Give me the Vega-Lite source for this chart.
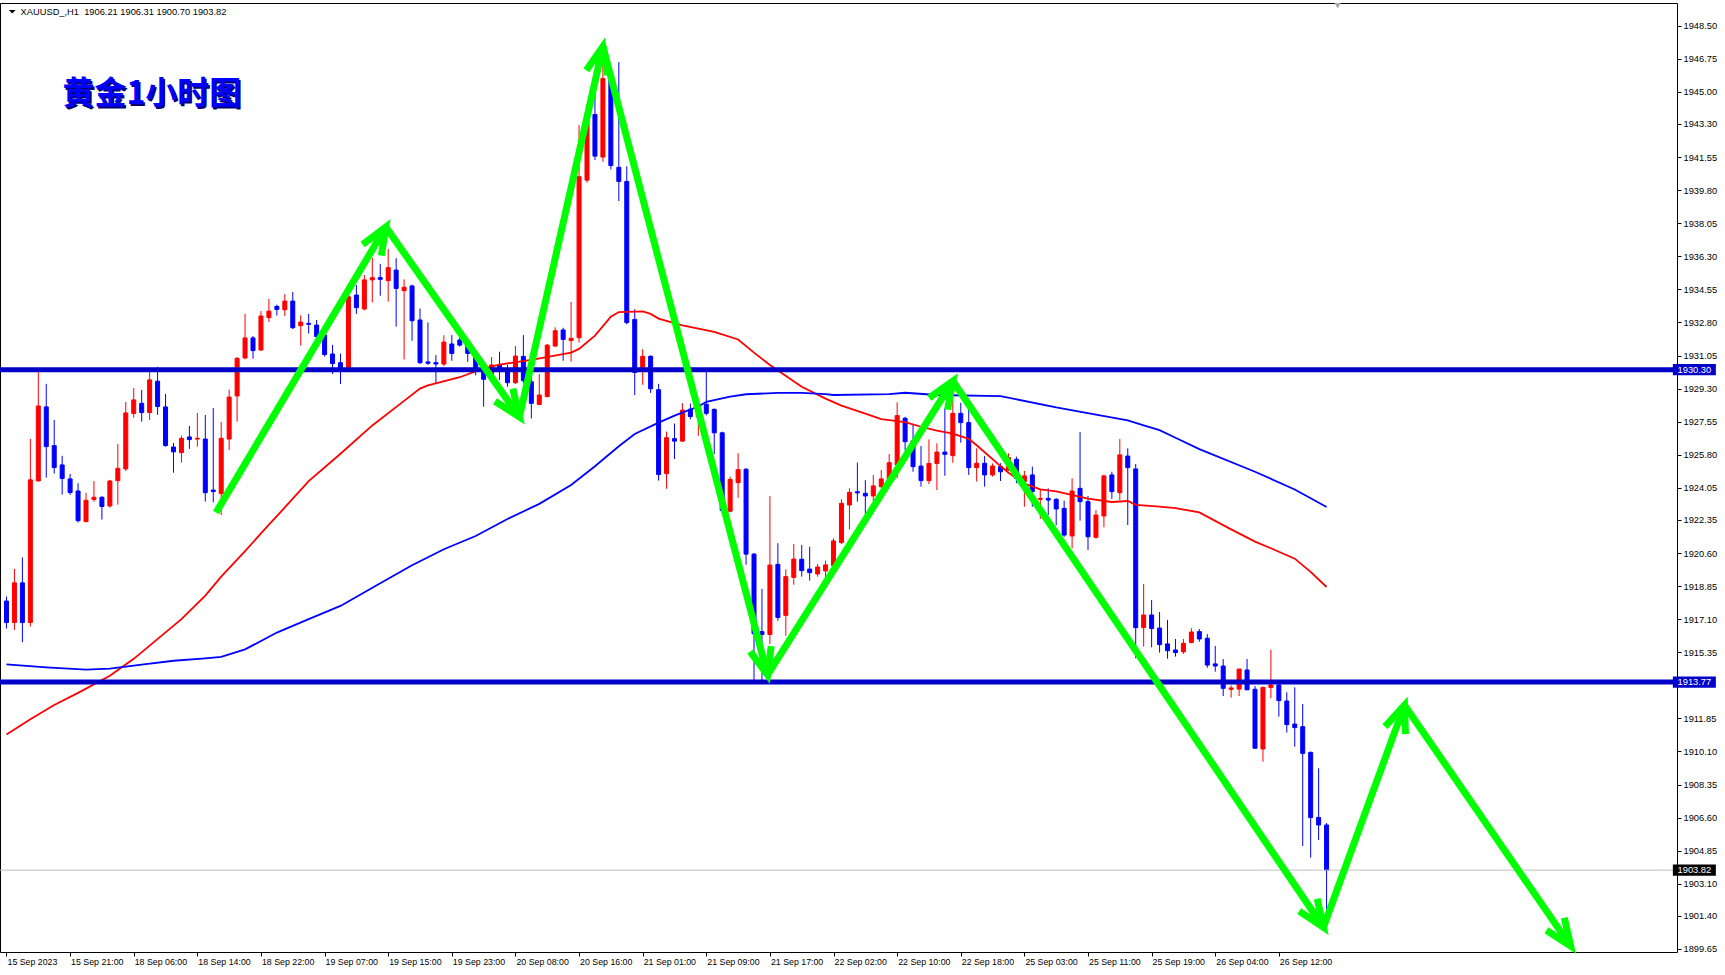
{
"$schema": "https://vega.github.io/schema/vega-lite/v6.json",
"width": 1677, "height": 949,
"autosize": {"type": "none"},
"padding": {"left": 0, "top": 3, "right": 48, "bottom": 23},
"background": "white",
"config": {
"view": {"stroke": "black", "strokeWidth": 1},
"font": "Liberation Sans",
"axisX": {"grid": false, "domain": false, "ticks": true, "tickSize": 4, "tickColor": "black", "tickWidth": 1,
"labelColor": "black", "labelFont": "Liberation Sans", "labelFontSize": 8.8, "labelAlign": "left", "labelBaseline": "top",
"labelPadding": 1, "labelOffset": 0.5, "labelOverlap": false, "labelFlush": false, "labelBound": false, "title": null},
"axisY": {"grid": false, "domain": false, "ticks": true, "tickSize": 4, "tickColor": "black", "tickWidth": 1,
"labelColor": "black", "labelFont": "Liberation Sans", "labelFontSize": 9.3, "labelPadding": 2, "labelAlign": "left", "labelBaseline": "middle",
"labelOverlap": false, "labelFlush": false, "labelBound": false, "title": null}
},
"datasets": {
"candles": [
{"i":0,"t":"2023-09-15 13:00","o":1918.06,"h":1918.3,"l":1916.6,"c":1916.92},
{"i":1,"t":"2023-09-15 14:00","o":1916.92,"h":1919.76,"l":1916.53,"c":1919.02},
{"i":2,"t":"2023-09-15 15:00","o":1919.02,"h":1920.36,"l":1915.88,"c":1916.92},
{"i":3,"t":"2023-09-15 16:00","o":1916.92,"h":1926.64,"l":1916.71,"c":1924.47},
{"i":4,"t":"2023-09-15 17:00","o":1924.41,"h":1930.35,"l":1924.41,"c":1928.38},
{"i":5,"t":"2023-09-15 18:00","o":1928.33,"h":1929.55,"l":1924.59,"c":1926.23},
{"i":6,"t":"2023-09-15 19:00","o":1926.28,"h":1927.64,"l":1924.8,"c":1925.12},
{"i":7,"t":"2023-09-15 20:00","o":1925.26,"h":1925.74,"l":1923.69,"c":1924.54},
{"i":8,"t":"2023-09-15 21:00","o":1924.52,"h":1924.78,"l":1923.67,"c":1923.8},
{"i":9,"t":"2023-09-15 22:00","o":1923.88,"h":1924.29,"l":1922.21,"c":1922.31},
{"i":10,"t":"2023-09-15 23:00","o":1922.26,"h":1923.78,"l":1922.23,"c":1923.39},
{"i":11,"t":"2023-09-18 01:00","o":1923.43,"h":1924.41,"l":1923.32,"c":1923.55},
{"i":12,"t":"2023-09-18 02:00","o":1923.55,"h":1923.6,"l":1922.37,"c":1923.06},
{"i":13,"t":"2023-09-18 03:00","o":1923.09,"h":1924.47,"l":1923.0,"c":1924.41},
{"i":14,"t":"2023-09-18 04:00","o":1924.43,"h":1926.37,"l":1923.16,"c":1925.08},
{"i":15,"t":"2023-09-18 05:00","o":1925.05,"h":1928.59,"l":1924.94,"c":1928.01},
{"i":16,"t":"2023-09-18 06:00","o":1927.98,"h":1929.33,"l":1927.76,"c":1928.7},
{"i":17,"t":"2023-09-18 07:00","o":1928.52,"h":1929.23,"l":1927.55,"c":1928.03},
{"i":18,"t":"2023-09-18 08:00","o":1928.03,"h":1930.4,"l":1927.64,"c":1929.76},
{"i":19,"t":"2023-09-18 09:00","o":1929.69,"h":1930.45,"l":1927.91,"c":1928.35},
{"i":20,"t":"2023-09-18 10:00","o":1928.33,"h":1929.02,"l":1926.23,"c":1926.28},
{"i":21,"t":"2023-09-18 11:00","o":1926.21,"h":1926.42,"l":1924.85,"c":1925.95},
{"i":22,"t":"2023-09-18 12:00","o":1925.91,"h":1926.81,"l":1925.38,"c":1926.67},
{"i":23,"t":"2023-09-18 13:00","o":1926.74,"h":1927.32,"l":1926.11,"c":1926.6},
{"i":24,"t":"2023-09-18 14:00","o":1926.63,"h":1928.01,"l":1926.23,"c":1926.67},
{"i":25,"t":"2023-09-18 15:00","o":1926.63,"h":1927.9,"l":1923.32,"c":1923.79},
{"i":26,"t":"2023-09-18 16:00","o":1923.93,"h":1928.27,"l":1923.28,"c":1923.85},
{"i":27,"t":"2023-09-18 17:00","o":1923.74,"h":1927.53,"l":1922.61,"c":1926.67},
{"i":28,"t":"2023-09-18 18:00","o":1926.63,"h":1929.24,"l":1926.05,"c":1928.85},
{"i":29,"t":"2023-09-18 19:00","o":1928.91,"h":1930.97,"l":1927.55,"c":1930.9},
{"i":30,"t":"2023-09-18 20:00","o":1930.92,"h":1933.25,"l":1930.85,"c":1931.98},
{"i":31,"t":"2023-09-18 21:00","o":1931.98,"h":1932.08,"l":1930.88,"c":1931.31},
{"i":32,"t":"2023-09-18 22:00","o":1931.34,"h":1933.4,"l":1931.29,"c":1933.14},
{"i":33,"t":"2023-09-18 23:00","o":1933.05,"h":1934.04,"l":1932.82,"c":1933.4},
{"i":34,"t":"2023-09-19 01:00","o":1933.65,"h":1933.74,"l":1933.16,"c":1933.49},
{"i":35,"t":"2023-09-19 02:00","o":1933.47,"h":1934.3,"l":1933.14,"c":1933.93},
{"i":36,"t":"2023-09-19 03:00","o":1933.93,"h":1934.41,"l":1932.45,"c":1932.52},
{"i":37,"t":"2023-09-19 04:00","o":1932.63,"h":1933.18,"l":1931.57,"c":1932.82},
{"i":38,"t":"2023-09-19 05:00","o":1932.75,"h":1933.25,"l":1932.21,"c":1932.7},
{"i":39,"t":"2023-09-19 06:00","o":1932.66,"h":1932.93,"l":1931.92,"c":1932.05},
{"i":40,"t":"2023-09-19 07:00","o":1932.14,"h":1932.31,"l":1930.99,"c":1931.1},
{"i":41,"t":"2023-09-19 08:00","o":1931.13,"h":1931.61,"l":1930.07,"c":1930.62},
{"i":42,"t":"2023-09-19 09:00","o":1930.67,"h":1931.15,"l":1929.54,"c":1930.25},
{"i":43,"t":"2023-09-19 10:00","o":1930.4,"h":1934.5,"l":1930.2,"c":1934.16},
{"i":44,"t":"2023-09-19 11:00","o":1934.25,"h":1934.78,"l":1933.25,"c":1933.58},
{"i":45,"t":"2023-09-19 12:00","o":1933.51,"h":1935.31,"l":1933.44,"c":1935.05},
{"i":46,"t":"2023-09-19 13:00","o":1935.05,"h":1936.23,"l":1933.86,"c":1935.17},
{"i":47,"t":"2023-09-19 14:00","o":1935.17,"h":1935.89,"l":1934.21,"c":1935.08},
{"i":48,"t":"2023-09-19 15:00","o":1935.01,"h":1936.7,"l":1933.9,"c":1935.7},
{"i":49,"t":"2023-09-19 16:00","o":1935.57,"h":1936.2,"l":1932.58,"c":1934.6},
{"i":50,"t":"2023-09-19 17:00","o":1934.48,"h":1935.08,"l":1930.84,"c":1934.66},
{"i":51,"t":"2023-09-19 18:00","o":1934.73,"h":1934.8,"l":1931.83,"c":1932.89},
{"i":52,"t":"2023-09-19 19:00","o":1932.93,"h":1933.54,"l":1930.6,"c":1930.67},
{"i":53,"t":"2023-09-19 20:00","o":1930.71,"h":1932.8,"l":1930.55,"c":1930.64},
{"i":54,"t":"2023-09-19 21:00","o":1930.67,"h":1931.07,"l":1929.57,"c":1930.6},
{"i":55,"t":"2023-09-19 22:00","o":1930.6,"h":1932.12,"l":1930.49,"c":1931.76},
{"i":56,"t":"2023-09-19 23:00","o":1931.66,"h":1932.13,"l":1930.77,"c":1931.16},
{"i":57,"t":"2023-09-20 01:00","o":1931.87,"h":1932.05,"l":1931.52,"c":1931.6},
{"i":58,"t":"2023-09-20 02:00","o":1931.6,"h":1931.8,"l":1930.72,"c":1931.16},
{"i":59,"t":"2023-09-20 03:00","o":1930.98,"h":1931.3,"l":1930.0,"c":1930.3},
{"i":60,"t":"2023-09-20 04:00","o":1930.37,"h":1930.6,"l":1928.34,"c":1929.79},
{"i":61,"t":"2023-09-20 05:00","o":1929.8,"h":1930.97,"l":1929.7,"c":1930.55},
{"i":62,"t":"2023-09-20 06:00","o":1930.55,"h":1931.25,"l":1929.75,"c":1930.2},
{"i":63,"t":"2023-09-20 07:00","o":1930.2,"h":1930.55,"l":1929.4,"c":1929.61},
{"i":64,"t":"2023-09-20 08:00","o":1929.61,"h":1931.55,"l":1929.54,"c":1931.02},
{"i":65,"t":"2023-09-20 09:00","o":1931.0,"h":1932.13,"l":1929.58,"c":1929.72},
{"i":66,"t":"2023-09-20 10:00","o":1929.66,"h":1929.9,"l":1927.72,"c":1928.52},
{"i":67,"t":"2023-09-20 11:00","o":1928.46,"h":1930.07,"l":1928.43,"c":1928.96},
{"i":68,"t":"2023-09-20 12:00","o":1928.87,"h":1931.66,"l":1928.85,"c":1931.6},
{"i":69,"t":"2023-09-20 13:00","o":1931.55,"h":1932.54,"l":1931.52,"c":1932.36},
{"i":70,"t":"2023-09-20 14:00","o":1932.4,"h":1932.52,"l":1930.77,"c":1931.9},
{"i":71,"t":"2023-09-20 15:00","o":1931.84,"h":1933.88,"l":1930.72,"c":1931.96},
{"i":72,"t":"2023-09-20 16:00","o":1931.99,"h":1943.24,"l":1931.73,"c":1940.51},
{"i":73,"t":"2023-09-20 17:00","o":1940.33,"h":1944.35,"l":1940.19,"c":1943.83},
{"i":74,"t":"2023-09-20 18:00","o":1943.8,"h":1945.63,"l":1941.39,"c":1941.6},
{"i":75,"t":"2023-09-20 19:00","o":1941.55,"h":1946.7,"l":1941.3,"c":1945.7},
{"i":76,"t":"2023-09-20 20:00","o":1945.7,"h":1946.2,"l":1940.9,"c":1941.1},
{"i":77,"t":"2023-09-20 21:00","o":1941.01,"h":1946.57,"l":1939.22,"c":1940.26},
{"i":78,"t":"2023-09-20 22:00","o":1940.26,"h":1941.06,"l":1932.7,"c":1932.79},
{"i":79,"t":"2023-09-20 23:00","o":1932.96,"h":1933.5,"l":1928.96,"c":1930.15},
{"i":80,"t":"2023-09-21 01:00","o":1930.41,"h":1931.38,"l":1929.5,"c":1931.01},
{"i":81,"t":"2023-09-21 02:00","o":1931.01,"h":1931.05,"l":1929.07,"c":1929.29},
{"i":82,"t":"2023-09-21 03:00","o":1929.24,"h":1929.55,"l":1924.43,"c":1924.75},
{"i":83,"t":"2023-09-21 04:00","o":1924.8,"h":1927.02,"l":1924.0,"c":1926.7},
{"i":84,"t":"2023-09-21 05:00","o":1926.65,"h":1927.45,"l":1925.57,"c":1926.52},
{"i":85,"t":"2023-09-21 06:00","o":1926.52,"h":1928.53,"l":1926.48,"c":1928.16},
{"i":86,"t":"2023-09-21 07:00","o":1928.21,"h":1928.51,"l":1927.67,"c":1927.82},
{"i":87,"t":"2023-09-21 08:00","o":1927.8,"h":1928.64,"l":1926.8,"c":1928.4},
{"i":88,"t":"2023-09-21 09:00","o":1928.47,"h":1930.26,"l":1927.88,"c":1927.99},
{"i":89,"t":"2023-09-21 10:00","o":1928.2,"h":1928.25,"l":1925.83,"c":1926.96},
{"i":90,"t":"2023-09-21 11:00","o":1926.96,"h":1927.02,"l":1922.7,"c":1922.85},
{"i":91,"t":"2023-09-21 12:00","o":1922.81,"h":1924.64,"l":1922.76,"c":1924.49},
{"i":92,"t":"2023-09-21 13:00","o":1924.32,"h":1925.88,"l":1923.52,"c":1925.01},
{"i":93,"t":"2023-09-21 14:00","o":1925.03,"h":1925.1,"l":1919.98,"c":1920.54},
{"i":94,"t":"2023-09-21 15:00","o":1920.54,"h":1920.6,"l":1913.84,"c":1916.33},
{"i":95,"t":"2023-09-21 16:00","o":1916.44,"h":1918.7,"l":1913.84,"c":1916.29},
{"i":96,"t":"2023-09-21 17:00","o":1916.29,"h":1923.61,"l":1915.79,"c":1919.96},
{"i":97,"t":"2023-09-21 18:00","o":1920.0,"h":1921.12,"l":1917.02,"c":1917.19},
{"i":98,"t":"2023-09-21 19:00","o":1917.3,"h":1919.74,"l":1916.22,"c":1919.35},
{"i":99,"t":"2023-09-21 20:00","o":1919.31,"h":1921.08,"l":1918.92,"c":1920.28},
{"i":100,"t":"2023-09-21 21:00","o":1920.27,"h":1921.02,"l":1919.35,"c":1919.67},
{"i":101,"t":"2023-09-21 22:00","o":1919.75,"h":1920.93,"l":1919.14,"c":1919.56},
{"i":102,"t":"2023-09-21 23:00","o":1919.49,"h":1920.02,"l":1919.35,"c":1919.86},
{"i":103,"t":"2023-09-22 01:00","o":1919.65,"h":1920.2,"l":1919.31,"c":1919.97},
{"i":104,"t":"2023-09-22 02:00","o":1919.93,"h":1921.38,"l":1919.88,"c":1921.24},
{"i":105,"t":"2023-09-22 03:00","o":1921.15,"h":1923.44,"l":1921.08,"c":1923.23},
{"i":106,"t":"2023-09-22 04:00","o":1923.14,"h":1924.02,"l":1921.85,"c":1923.81},
{"i":107,"t":"2023-09-22 05:00","o":1923.84,"h":1925.38,"l":1923.32,"c":1923.78},
{"i":108,"t":"2023-09-22 06:00","o":1923.76,"h":1924.46,"l":1922.66,"c":1923.62},
{"i":109,"t":"2023-09-22 07:00","o":1923.62,"h":1924.73,"l":1923.32,"c":1924.15},
{"i":110,"t":"2023-09-22 08:00","o":1924.11,"h":1924.99,"l":1924.02,"c":1924.52},
{"i":111,"t":"2023-09-22 09:00","o":1924.5,"h":1925.84,"l":1924.46,"c":1925.38},
{"i":112,"t":"2023-09-22 10:00","o":1925.26,"h":1928.57,"l":1924.55,"c":1927.87},
{"i":113,"t":"2023-09-22 11:00","o":1927.73,"h":1927.81,"l":1926.02,"c":1926.49},
{"i":114,"t":"2023-09-22 12:00","o":1926.54,"h":1927.43,"l":1924.9,"c":1925.17},
{"i":115,"t":"2023-09-22 13:00","o":1925.2,"h":1926.26,"l":1924.11,"c":1924.43},
{"i":116,"t":"2023-09-22 14:00","o":1924.43,"h":1926.61,"l":1924.25,"c":1925.34},
{"i":117,"t":"2023-09-22 15:00","o":1925.34,"h":1926.4,"l":1923.93,"c":1925.94},
{"i":118,"t":"2023-09-22 16:00","o":1925.94,"h":1928.25,"l":1924.69,"c":1925.82},
{"i":119,"t":"2023-09-22 17:00","o":1925.75,"h":1928.7,"l":1925.38,"c":1927.99},
{"i":120,"t":"2023-09-22 18:00","o":1927.99,"h":1928.55,"l":1926.44,"c":1927.5},
{"i":121,"t":"2023-09-22 19:00","o":1927.5,"h":1928.38,"l":1924.73,"c":1925.12},
{"i":122,"t":"2023-09-22 20:00","o":1925.12,"h":1926.14,"l":1924.38,"c":1925.35},
{"i":123,"t":"2023-09-22 21:00","o":1925.35,"h":1925.73,"l":1924.11,"c":1924.73},
{"i":124,"t":"2023-09-22 22:00","o":1924.73,"h":1925.34,"l":1924.64,"c":1925.2},
{"i":125,"t":"2023-09-22 23:00","o":1925.17,"h":1925.35,"l":1924.41,"c":1924.9},
{"i":126,"t":"2023-09-25 01:00","o":1924.99,"h":1925.87,"l":1924.96,"c":1925.65},
{"i":127,"t":"2023-09-25 02:00","o":1925.56,"h":1925.7,"l":1924.29,"c":1924.55},
{"i":128,"t":"2023-09-25 03:00","o":1924.38,"h":1924.94,"l":1923.05,"c":1924.68},
{"i":129,"t":"2023-09-25 04:00","o":1924.73,"h":1925.17,"l":1923.05,"c":1923.85},
{"i":130,"t":"2023-09-25 05:00","o":1923.44,"h":1923.97,"l":1922.4,"c":1923.49},
{"i":131,"t":"2023-09-25 06:00","o":1923.49,"h":1924.02,"l":1922.61,"c":1923.4},
{"i":132,"t":"2023-09-25 07:00","o":1923.44,"h":1923.5,"l":1922.08,"c":1922.93},
{"i":133,"t":"2023-09-25 08:00","o":1922.96,"h":1923.37,"l":1921.46,"c":1921.55},
{"i":134,"t":"2023-09-25 09:00","o":1921.5,"h":1924.55,"l":1920.85,"c":1923.88},
{"i":135,"t":"2023-09-25 10:00","o":1924.02,"h":1927.0,"l":1922.31,"c":1923.32},
{"i":136,"t":"2023-09-25 11:00","o":1923.32,"h":1923.62,"l":1920.76,"c":1921.46},
{"i":137,"t":"2023-09-25 12:00","o":1921.43,"h":1922.87,"l":1921.36,"c":1922.61},
{"i":138,"t":"2023-09-25 13:00","o":1922.56,"h":1924.73,"l":1921.96,"c":1924.68},
{"i":139,"t":"2023-09-25 14:00","o":1924.73,"h":1924.9,"l":1923.46,"c":1923.85},
{"i":140,"t":"2023-09-25 15:00","o":1923.79,"h":1926.63,"l":1923.41,"c":1925.79},
{"i":141,"t":"2023-09-25 16:00","o":1925.73,"h":1926.14,"l":1922.08,"c":1925.12},
{"i":142,"t":"2023-09-25 17:00","o":1925.05,"h":1925.31,"l":1915.03,"c":1916.65},
{"i":143,"t":"2023-09-25 18:00","o":1916.65,"h":1918.96,"l":1915.65,"c":1917.32},
{"i":144,"t":"2023-09-25 19:00","o":1917.32,"h":1918.11,"l":1915.61,"c":1916.6},
{"i":145,"t":"2023-09-25 20:00","o":1916.63,"h":1917.48,"l":1915.33,"c":1915.75},
{"i":146,"t":"2023-09-25 21:00","o":1915.79,"h":1917.06,"l":1915.01,"c":1915.43},
{"i":147,"t":"2023-09-25 22:00","o":1915.47,"h":1916.05,"l":1915.12,"c":1915.33},
{"i":148,"t":"2023-09-25 23:00","o":1915.37,"h":1916.05,"l":1915.26,"c":1915.82},
{"i":149,"t":"2023-09-26 01:00","o":1915.86,"h":1916.62,"l":1915.82,"c":1916.42},
{"i":150,"t":"2023-09-26 02:00","o":1916.44,"h":1916.58,"l":1915.91,"c":1916.05},
{"i":151,"t":"2023-09-26 03:00","o":1916.09,"h":1916.31,"l":1914.53,"c":1914.67},
{"i":152,"t":"2023-09-26 04:00","o":1914.73,"h":1915.68,"l":1914.32,"c":1914.62},
{"i":153,"t":"2023-09-26 05:00","o":1914.62,"h":1914.99,"l":1913.03,"c":1913.44},
{"i":154,"t":"2023-09-26 06:00","o":1913.39,"h":1913.6,"l":1912.95,"c":1913.46},
{"i":155,"t":"2023-09-26 07:00","o":1913.4,"h":1914.46,"l":1913.03,"c":1914.46},
{"i":156,"t":"2023-09-26 08:00","o":1914.41,"h":1914.99,"l":1913.35,"c":1913.36},
{"i":157,"t":"2023-09-26 09:00","o":1913.39,"h":1913.56,"l":1910.23,"c":1910.27},
{"i":158,"t":"2023-09-26 10:00","o":1910.23,"h":1913.53,"l":1909.56,"c":1913.49},
{"i":159,"t":"2023-09-26 11:00","o":1913.48,"h":1915.47,"l":1912.91,"c":1913.62},
{"i":160,"t":"2023-09-26 12:00","o":1913.62,"h":1913.7,"l":1911.94,"c":1912.79},
{"i":161,"t":"2023-09-26 13:00","o":1912.77,"h":1913.23,"l":1911.1,"c":1911.52},
{"i":162,"t":"2023-09-26 14:00","o":1911.55,"h":1913.49,"l":1910.35,"c":1911.36},
{"i":163,"t":"2023-09-26 15:00","o":1911.41,"h":1912.61,"l":1905.1,"c":1910.0},
{"i":164,"t":"2023-09-26 16:00","o":1910.05,"h":1910.1,"l":1904.48,"c":1906.6},
{"i":165,"t":"2023-09-26 17:00","o":1906.61,"h":1909.21,"l":1905.41,"c":1906.21},
{"i":166,"t":"2023-09-26 18:00","o":1906.21,"h":1906.31,"l":1900.7,"c":1903.82}
],
"ma": [
{"ma":"fast","i":0,"v":1911.0},{"ma":"fast","i":3,"v":1911.8},{"ma":"fast","i":6,"v":1912.56},{"ma":"fast","i":9,"v":1913.2},{"ma":"fast","i":13,"v":1914.1},{"ma":"fast","i":16,"v":1915.0},{"ma":"fast","i":18,"v":1915.7},{"ma":"fast","i":20,"v":1916.4},{"ma":"fast","i":22,"v":1917.1},{"ma":"fast","i":25,"v":1918.35},{"ma":"fast","i":27,"v":1919.35},{"ma":"fast","i":30,"v":1920.7},{"ma":"fast","i":33,"v":1922.1},{"ma":"fast","i":34,"v":1922.55},{"ma":"fast","i":38,"v":1924.4},{"ma":"fast","i":42,"v":1925.85},{"ma":"fast","i":46,"v":1927.35},{"ma":"fast","i":50,"v":1928.65},{"ma":"fast","i":52,"v":1929.3},{"ma":"fast","i":53,"v":1929.47},{"ma":"fast","i":57,"v":1929.9},{"ma":"fast","i":60,"v":1930.37},{"ma":"fast","i":62,"v":1930.57},{"ma":"fast","i":66,"v":1930.82},{"ma":"fast","i":71,"v":1931.2},{"ma":"fast","i":72,"v":1931.4},{"ma":"fast","i":74,"v":1932.1},{"ma":"fast","i":76,"v":1933.1},{"ma":"fast","i":77,"v":1933.35},{"ma":"fast","i":80,"v":1933.38},{"ma":"fast","i":81,"v":1933.25},{"ma":"fast","i":82,"v":1933.0},{"ma":"fast","i":85,"v":1932.64},{"ma":"fast","i":89,"v":1932.3},{"ma":"fast","i":92,"v":1931.9},{"ma":"fast","i":94,"v":1931.2},{"ma":"fast","i":96,"v":1930.55},{"ma":"fast","i":100,"v":1929.4},{"ma":"fast","i":103,"v":1928.77},{"ma":"fast","i":105,"v":1928.4},{"ma":"fast","i":108,"v":1927.97},{"ma":"fast","i":110,"v":1927.68},{"ma":"fast","i":113,"v":1927.53},{"ma":"fast","i":115,"v":1927.28},{"ma":"fast","i":117,"v":1927.08},{"ma":"fast","i":119,"v":1926.92},{"ma":"fast","i":121,"v":1926.64},{"ma":"fast","i":122,"v":1926.3},{"ma":"fast","i":125,"v":1925.2},{"ma":"fast","i":126,"v":1924.85},{"ma":"fast","i":128,"v":1924.27},{"ma":"fast","i":130,"v":1923.97},{"ma":"fast","i":132,"v":1923.86},{"ma":"fast","i":136,"v":1923.48},{"ma":"fast","i":139,"v":1923.3},{"ma":"fast","i":141,"v":1923.35},{"ma":"fast","i":142,"v":1923.15},{"ma":"fast","i":145,"v":1923.05},{"ma":"fast","i":147,"v":1922.98},{"ma":"fast","i":150,"v":1922.75},{"ma":"fast","i":154,"v":1921.85},{"ma":"fast","i":157,"v":1921.2},{"ma":"fast","i":159,"v":1920.85},{"ma":"fast","i":162,"v":1920.3},{"ma":"fast","i":164,"v":1919.6},{"ma":"fast","i":166,"v":1918.8},
{"ma":"slow","i":0,"v":1914.71},{"ma":"slow","i":5,"v":1914.55},{"ma":"slow","i":10,"v":1914.43},{"ma":"slow","i":13,"v":1914.48},{"ma":"slow","i":17,"v":1914.69},{"ma":"slow","i":21,"v":1914.9},{"ma":"slow","i":25,"v":1915.03},{"ma":"slow","i":27,"v":1915.1},{"ma":"slow","i":30,"v":1915.5},{"ma":"slow","i":34,"v":1916.39},{"ma":"slow","i":38,"v":1917.1},{"ma":"slow","i":42,"v":1917.8},{"ma":"slow","i":47,"v":1919.0},{"ma":"slow","i":51,"v":1919.95},{"ma":"slow","i":55,"v":1920.8},{"ma":"slow","i":59,"v":1921.5},{"ma":"slow","i":63,"v":1922.4},{"ma":"slow","i":67,"v":1923.2},{"ma":"slow","i":71,"v":1924.2},{"ma":"slow","i":74,"v":1925.19},{"ma":"slow","i":77,"v":1926.25},{"ma":"slow","i":79,"v":1926.9},{"ma":"slow","i":82,"v":1927.5},{"ma":"slow","i":84,"v":1927.87},{"ma":"slow","i":87,"v":1928.35},{"ma":"slow","i":88,"v":1928.6},{"ma":"slow","i":91,"v":1928.87},{"ma":"slow","i":93,"v":1929.0},{"ma":"slow","i":97,"v":1929.07},{"ma":"slow","i":100,"v":1929.07},{"ma":"slow","i":103,"v":1929.01},{"ma":"slow","i":104,"v":1928.96},{"ma":"slow","i":111,"v":1929.01},{"ma":"slow","i":113,"v":1929.08},{"ma":"slow","i":117,"v":1928.96},{"ma":"slow","i":125,"v":1928.9},{"ma":"slow","i":132,"v":1928.3},{"ma":"slow","i":137,"v":1927.92},{"ma":"slow","i":141,"v":1927.62},{"ma":"slow","i":143,"v":1927.35},{"ma":"slow","i":145,"v":1927.1},{"ma":"slow","i":147,"v":1926.7},{"ma":"slow","i":150,"v":1926.1},{"ma":"slow","i":157,"v":1924.9},{"ma":"slow","i":162,"v":1923.96},{"ma":"slow","i":166,"v":1923.03}
],
"levels": [
{"kind":"level","p":1930.30,"label":"1930.30"},
{"kind":"level","p":1913.77,"label":"1913.77"},
{"kind":"bid","p":1903.82,"label":"1903.82"}
],
"arrows": [
{"seg":1,"i0":26.35,"p0":1922.74,"i1":47.7,"p1":1937.85},
{"seg":2,"i0":47.7,"p0":1937.85,"i1":64.5,"p1":1927.8},
{"seg":3,"i0":64.5,"p0":1927.8,"i1":75.0,"p1":1947.4},
{"seg":4,"i0":75.0,"p0":1947.4,"i1":95.7,"p1":1914.15},
{"seg":5,"i0":95.7,"p0":1914.15,"i1":119.0,"p1":1929.7},
{"seg":6,"i0":119.0,"p0":1929.7,"i1":165.6,"p1":1900.8},
{"seg":7,"i0":165.6,"p0":1900.8,"i1":175.8,"p1":1912.55},
{"seg":8,"i0":175.8,"p0":1912.55,"i1":196.7,"p1":1899.8}
]
},
"layer": [
{
"data": {"name": "candles"},
"mark": {"type": "rule", "strokeWidth": 1},
"encoding": {
"x": {"field": "i", "type": "quantitative", "title": null, "scale": {"domain": [-0.1875, 209.4375], "nice": false, "zero": false},
"axis": {"orient": "bottom", "tickCount": 100, "labelOverlap": false, "labelFlush": false, "labelBound": false, "values": [0,8,16,24,32,40,48,56,64,72,80,88,96,104,112,120,128,136,144,152,160],
"labelExpr": "['15 Sep 2023','15 Sep 21:00','18 Sep 06:00','18 Sep 14:00','18 Sep 22:00','19 Sep 07:00','19 Sep 15:00','19 Sep 23:00','20 Sep 08:00','20 Sep 16:00','21 Sep 01:00','21 Sep 09:00','21 Sep 17:00','22 Sep 02:00','22 Sep 10:00','22 Sep 18:00','25 Sep 03:00','25 Sep 11:00','25 Sep 19:00','26 Sep 04:00','26 Sep 12:00'][round(datum.value/8)]"}},
"y": {"field": "l", "type": "quantitative", "title": null, "scale": {"domain": [1899.489, 1949.701], "nice": false, "zero": false},
"axis": {"orient": "right", "format": ".2f", "tickCount": 100, "labelOverlap": false, "labelFlush": false, "labelBound": false, "values": [1948.5,1946.75,1945.0,1943.3,1941.55,1939.8,1938.05,1936.3,1934.55,1932.8,1931.05,1929.3,1927.55,1925.8,1924.05,1922.35,1920.6,1918.85,1917.1,1915.35,1911.85,1910.1,1908.35,1906.6,1904.85,1903.1,1901.4,1899.65]}},
"y2": {"field": "h"},
"color": {"condition": {"test": "datum.c >= datum.o", "value": "#ff0000"}, "value": "#0000ff"}
}
},
{
"data": {"name": "candles"},
"mark": {"type": "bar", "orient": "vertical", "width": 4, "strokeWidth": 1},
"encoding": {
"x": {"field": "i", "type": "quantitative", "title": null},
"y": {"field": "o", "type": "quantitative", "title": null},
"y2": {"field": "c"},
"color": {"condition": {"test": "datum.c >= datum.o", "value": "#ff0000"}, "value": "#0000ff"},
"stroke": {"condition": {"test": "datum.c >= datum.o", "value": "#ff0000"}, "value": "#0000ff"}
}
},
{
"data": {"name": "ma"},
"mark": {"type": "line", "strokeWidth": 1.8},
"encoding": {
"x": {"field": "i", "type": "quantitative", "title": null},
"y": {"field": "v", "type": "quantitative", "title": null},
"color": {"field": "ma", "type": "nominal", "scale": {"domain": ["fast", "slow"], "range": ["#ff0000", "#0000ff"]}, "legend": null}
}
},
{
"data": {"name": "levels"},
"transform": [{"filter": "datum.kind == 'bid'"}],
"mark": {"type": "rule", "strokeWidth": 1, "color": "#c0c0c0"},
"encoding": {
"y": {"field": "p", "type": "quantitative", "title": null}
}
},
{
"data": {"name": "levels"},
"transform": [{"filter": "datum.kind == 'level'"}],
"mark": {"type": "rule", "strokeWidth": 5, "color": "#0000c8"},
"encoding": {
"y": {"field": "p", "type": "quantitative", "title": null}
}
},
{
"data": {"name": "arrows"},
"mark": {"type": "rule", "strokeWidth": 7, "color": "#00ff00", "strokeCap": "butt"},
"encoding": {
"x": {"field": "i0", "type": "quantitative", "title": null},
"y": {"field": "p0", "type": "quantitative", "title": null},
"x2": {"field": "i1"},
"y2": {"field": "p1"}
}
},
{
"data": {"name": "arrows"},
"transform": [{"calculate": "atan2(8 * (datum.i1 - datum.i0), 18.9 * (datum.p1 - datum.p0)) * 180 / PI", "as": "ang"}],
"mark": {"type": "point", "shape": "M -0.405 1 L 0 0 L 0.405 1", "filled": false, "stroke": "#00ff00", "strokeWidth": 7, "size": 2894, "opacity": 1, "strokeJoin": "miter", "strokeMiterLimit": 10},
"encoding": {
"x": {"field": "i1", "type": "quantitative", "title": null},
"y": {"field": "p1", "type": "quantitative", "title": null},
"angle": {"field": "ang", "type": "quantitative", "scale": null}
}
},
{
"data": {"values": [{"label": "XAUUSD_,H1\u00a0 1906.21 1906.31 1900.70 1903.82"}]},
"mark": {"type": "text", "align": "left", "baseline": "middle", "font": "Liberation Sans", "fontSize": 9.3, "color": "black"},
"encoding": {
"x": {"datum": 1.775, "type": "quantitative", "title": null},
"y": {"datum": 1949.24, "type": "quantitative", "title": null},
"text": {"field": "label"}
}
},
{
"data": {"values": [{"label": "menu"}]},
"mark": {"type": "point", "shape": "M -1 -0.5 L 1 -0.5 L 0 0.5 Z", "filled": true, "color": "black", "size": 45, "opacity": 1},
"encoding": {
"x": {"datum": 0.725, "type": "quantitative", "title": null},
"y": {"datum": 1949.24, "type": "quantitative", "title": null}
}
},
{
"data": {"values": [{"label": "shift"}]},
"mark": {"type": "point", "shape": "triangle-down", "filled": true, "color": "#a8a8a8", "size": 40, "opacity": 1},
"encoding": {
"x": {"datum": 167.4, "type": "quantitative", "title": null},
"y": {"datum": 1949.55, "type": "quantitative", "title": null}
}
},
{
"data": {"values": [{"label": "黄金1小时图"}]},
"mark": {"type": "text", "align": "left", "baseline": "middle", "font": "Noto Sans CJK SC", "fontWeight": "bold", "fontSize": 32, "color": "#000070", "dx": 1.5, "dy": 1.5},
"encoding": {
"x": {"datum": 7.04, "type": "quantitative", "title": null},
"y": {"datum": 1944.88, "type": "quantitative", "title": null},
"text": {"field": "label"}
}
},
{
"data": {"values": [{"label": "黄金1小时图"}]},
"mark": {"type": "text", "align": "left", "baseline": "middle", "font": "Noto Sans CJK SC", "fontWeight": "bold", "fontSize": 32, "color": "#0000ff"},
"encoding": {
"x": {"datum": 7.04, "type": "quantitative", "title": null},
"y": {"datum": 1944.88, "type": "quantitative", "title": null},
"text": {"field": "label"}
}
},
{
"data": {"name": "levels"},
"mark": {"type": "point", "shape": "M -1 -0.26 L 1 -0.26 L 1 0.26 L -1 0.26 Z", "filled": true, "size": 1849, "opacity": 1},
"encoding": {
"x": {"datum": 212.25, "type": "quantitative", "title": null},
"y": {"field": "p", "type": "quantitative", "title": null},
"color": {"condition": {"test": "datum.kind == 'bid'", "value": "#000000"}, "value": "#0000c8"}
}
},
{
"data": {"name": "levels"},
"mark": {"type": "text", "align": "center", "baseline": "middle", "font": "Liberation Sans", "fontSize": 9.3, "color": "white"},
"encoding": {
"x": {"datum": 212.25, "type": "quantitative", "title": null},
"y": {"field": "p", "type": "quantitative", "title": null},
"text": {"field": "label"}
}
}
]
}
